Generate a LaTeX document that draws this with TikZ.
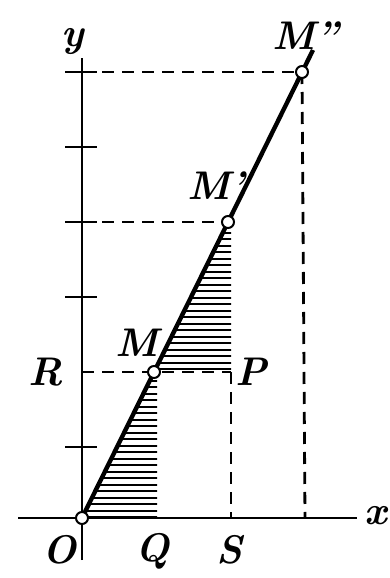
\documentclass[tikz,border=0pt]{standalone}
\begin{document}
\begin{tikzpicture}[x=1pt,y=-1pt,
  axis/.style={line width=2.2pt},
  mainline/.style={line width=4.4pt},
  dashline/.style={line width=2.8pt, dash pattern=on 12pt off 8pt},
  tick/.style={line width=2pt},
  hatch/.style={line width=2pt},
  pt/.style={circle, draw, fill=white, line width=2pt, inner sep=0pt, minimum size=12pt},
  lab/.style={font=\fontsize{40}{40}\selectfont\bfseries\itshape, inner sep=0pt}]
\useasboundingbox (0,0) rectangle (390,578);
% coordinates
\coordinate (O) at (82,518);
\coordinate (Mc) at (154,372);
\coordinate (M1c) at (228,222);
\coordinate (M2c) at (302,72);
\coordinate (Qc) at (157,518);
\coordinate (Pc) at (231,372);
\coordinate (Sc) at (231,518);
\coordinate (Tc) at (305,518);
\coordinate (Ry) at (82,372);
\coordinate (R1y) at (82,222);
\coordinate (R2y) at (82,72);
\coordinate (ytop) at (82,58);
\coordinate (ybot) at (82,560);
\coordinate (xl) at (18,518);
\coordinate (xr) at (357,518);
\coordinate (lend) at (313,50);
% hatching
\begin{scope}
  \clip (O) -- (Qc) -- (157,372) -- (Mc) -- cycle;
  \foreach \yy in {374,380.5,...,518} \draw[hatch] (70,\yy) -- (170,\yy);
\end{scope}
\begin{scope}
  \clip (Mc) -- (Pc) -- (231,222) -- (M1c) -- cycle;
  \foreach \yy in {226,232.5,...,372} \draw[hatch] (140,\yy) -- (240,\yy);
\end{scope}
% axes
\draw[axis] (xl) -- (xr);
\draw[axis] (ybot) -- (ytop);
\foreach \yy in {72,147,222,297,447} \draw[tick] (65,\yy) -- (97,\yy);
% dashed
\draw[dashline] (R2y) -- (M2c);
\draw[dashline] (R1y) -- (M1c);
\draw[dashline] (Ry) -- (Pc);
\draw[dashline] (Pc) -- (Sc);
\draw[dashline] (M2c) -- (Tc);
% main line
\draw[mainline] (O) -- (lend);
% points
\node[pt] (O0) at (O) {};
\node[pt] (M) at (Mc) {};
\node[pt] (M1) at (M1c) {};
\node[pt] (M2) at (M2c) {};
% labels
\node[lab] (ylab) at (73,42) {y};
\node[lab] (xlab) at (376,516) {x};
\node[lab] (M2lab) at (306,36) {M''};
\node[lab] (M1lab) at (216,186) {M'};
\node[lab] (Mlab) at (137,343) {M};
\node[lab] (Rlab) at (46,372) {R};
\node[lab] (Plab) at (251,372) {P};
\node[lab] (Olab) at (60,550) {O};
\node[lab] (Qlab) at (153,551) {Q};
\node[lab] (Slab) at (229,550) {S};
\end{tikzpicture}
\end{document}
